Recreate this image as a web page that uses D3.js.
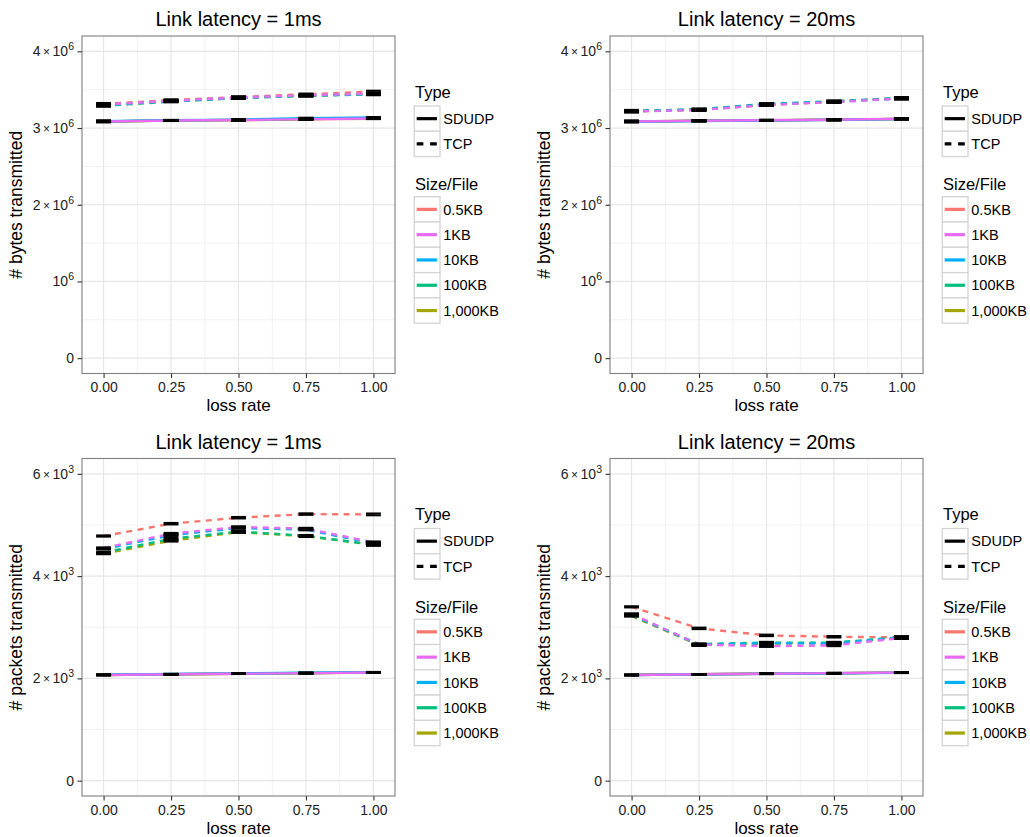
<!DOCTYPE html>
<html lang="en">
<head>
    <meta charset="UTF-8">
    <title>Transmitted bytes and packets</title>
    <script src="https://d3js.org/d3.v7.min.js"></script>
    <style>
        body { margin: 0; background: #fff; }
        text { font-family: "Liberation Sans", Arial, Helvetica, sans-serif; }
    </style>
</head>
<body>
<script>
    // x values (loss rate) and levels
    var lossRate = [0, 0.25, 0.5, 0.75, 1];
    var sizeLevels = ["0.5KB", "1KB", "10KB", "100KB", "1,000KB"];          // legend order
    var sizeColors = ["#F8766D", "#E76BF3", "#00B0F6", "#00BF7D", "#A3A500"];
    var drawOrder = ["0.5KB", "1,000KB", "100KB", "10KB", "1KB"];           // ggplot factor (alphabetical) order
    var typeLevels = ["SDUDP", "TCP"];

    // rows follow sizeLevels: 0.5KB, 1KB, 10KB, 100KB, 1,000KB
    var bytes1msSDUDP = [
        [3.086e6, 3.097e6, 3.103e6, 3.114e6, 3.122e6],
        [3.085e6, 3.098e6, 3.104e6, 3.116e6, 3.124e6],
        [3.088e6, 3.101e6, 3.110e6, 3.128e6, 3.138e6],
        [3.087e6, 3.099e6, 3.106e6, 3.120e6, 3.130e6],
        [3.086e6, 3.098e6, 3.105e6, 3.118e6, 3.127e6]
    ];
    var bytes1msTCP = [
        [3.315e6, 3.365e6, 3.405e6, 3.440e6, 3.475e6],
        [3.305e6, 3.355e6, 3.398e6, 3.428e6, 3.450e6],
        [3.300e6, 3.350e6, 3.395e6, 3.425e6, 3.445e6],
        [3.290e6, 3.345e6, 3.390e6, 3.420e6, 3.440e6],
        [3.295e6, 3.350e6, 3.392e6, 3.422e6, 3.442e6]
    ];
    var bytes20msSDUDP = [
        [3.086e6, 3.094e6, 3.100e6, 3.108e6, 3.118e6],
        [3.085e6, 3.095e6, 3.101e6, 3.109e6, 3.121e6],
        [3.084e6, 3.092e6, 3.098e6, 3.106e6, 3.116e6],
        [3.086e6, 3.094e6, 3.100e6, 3.108e6, 3.119e6],
        [3.087e6, 3.095e6, 3.101e6, 3.110e6, 3.120e6]
    ];
    var bytes20msTCP = [
        [3.225e6, 3.240e6, 3.300e6, 3.345e6, 3.392e6],
        [3.215e6, 3.235e6, 3.300e6, 3.338e6, 3.385e6],
        [3.220e6, 3.240e6, 3.310e6, 3.345e6, 3.385e6],
        [3.222e6, 3.245e6, 3.315e6, 3.350e6, 3.392e6],
        [3.218e6, 3.238e6, 3.305e6, 3.342e6, 3.388e6]
    ];
    var packets1msSDUDP = [
        [2067, 2080, 2090, 2100, 2112],
        [2066, 2080, 2091, 2102, 2114],
        [2070, 2085, 2098, 2110, 2122],
        [2068, 2082, 2093, 2104, 2116],
        [2067, 2081, 2092, 2103, 2115]
    ];
    var packets1msTCP = [
        [4784, 5025, 5142, 5213, 5207],
        [4550, 4830, 4960, 4930, 4660],
        [4530, 4800, 4940, 4910, 4640],
        [4460, 4730, 4870, 4790, 4610],
        [4440, 4690, 4860, 4780, 4620]
    ];
    var packets20msSDUDP = [
        [2067, 2080, 2090, 2100, 2112],
        [2066, 2081, 2091, 2102, 2114],
        [2064, 2078, 2088, 2098, 2108],
        [2067, 2080, 2090, 2101, 2112],
        [2068, 2081, 2092, 2102, 2113]
    ];
    var packets20msTCP = [
        [3399, 2978, 2841, 2814, 2802],
        [3260, 2660, 2630, 2645, 2790],
        [3250, 2655, 2690, 2680, 2800],
        [3230, 2670, 2700, 2700, 2805],
        [3220, 2650, 2680, 2690, 2795]
    ];

    // half-widths of the error bars, one per loss rate
    var bytesErrSDUDP = [9000, 6000, 6000, 7000, 6000];
    var bytesErrTCP = [12000, 10000, 10000, 10000, 12000];
    var packetsErrSDUDP = [6, 5, 5, 6, 5];
    var packetsErrTCP = [12, 15, 15, 15, 18];

    var yTicksBytes = [0, 1e6, 2e6, 3e6, 4e6];
    var yMinorBytes = [0.5e6, 1.5e6, 2.5e6, 3.5e6];
    var yTicksPackets = [0, 2e3, 4e3, 6e3];
    var yMinorPackets = [1e3, 3e3, 5e3];
    var xTicks = [0, 0.25, 0.5, 0.75, 1];
    var xMinor = [0.125, 0.375, 0.625, 0.875];

    var panelW = 313, panelH = 337.5;
    var capHalf = 0.0276;

    var panels = [
        {title: "Link latency = 1ms", ylab: "# bytes transmitted", left: 82, top: 36,
            yDomain: [-0.2e6, 4.2e6], yTicks: yTicksBytes, yMinor: yMinorBytes, exp: 6,
            series: [bytes1msSDUDP, bytes1msTCP], errs: [bytesErrSDUDP, bytesErrTCP]},
        {title: "Link latency = 20ms", ylab: "# bytes transmitted", left: 610, top: 36,
            yDomain: [-0.2e6, 4.2e6], yTicks: yTicksBytes, yMinor: yMinorBytes, exp: 6,
            series: [bytes20msSDUDP, bytes20msTCP], errs: [bytesErrSDUDP, bytesErrTCP]},
        {title: "Link latency = 1ms", ylab: "# packets transmitted", left: 82, top: 458.5,
            yDomain: [-300, 6300], yTicks: yTicksPackets, yMinor: yMinorPackets, exp: 3,
            series: [packets1msSDUDP, packets1msTCP], errs: [packetsErrSDUDP, packetsErrTCP]},
        {title: "Link latency = 20ms", ylab: "# packets transmitted", left: 610, top: 458.5,
            yDomain: [-300, 6300], yTicks: yTicksPackets, yMinor: yMinorPackets, exp: 3,
            series: [packets20msSDUDP, packets20msTCP], errs: [packetsErrSDUDP, packetsErrTCP]}
    ];

    var svg = d3.select("body").append("svg")
        .attr("width", 1030)
        .attr("height", 837);

    panels.forEach(function (p) {
        var x = d3.scaleLinear().domain([-0.08, 1.08]).range([p.left, p.left + panelW]);
        var y = d3.scaleLinear().domain(p.yDomain).range([p.top + panelH, p.top]);
        var g = svg.append("g");

        // panel background
        g.append("rect")
            .attr("x", p.left).attr("y", p.top)
            .attr("width", panelW).attr("height", panelH)
            .attr("fill", "#fff");

        // grid lines (minor then major)
        var grid = g.append("g");
        grid.selectAll(".xminor").data(xMinor).enter().append("line")
            .attr("x1", d => x(d)).attr("x2", d => x(d))
            .attr("y1", p.top).attr("y2", p.top + panelH)
            .attr("stroke", "#f2f2f2").attr("stroke-width", 1);
        grid.selectAll(".yminor").data(p.yMinor).enter().append("line")
            .attr("x1", p.left).attr("x2", p.left + panelW)
            .attr("y1", d => y(d)).attr("y2", d => y(d))
            .attr("stroke", "#f2f2f2").attr("stroke-width", 1);
        grid.selectAll(".xmajor").data(xTicks).enter().append("line")
            .attr("x1", d => x(d)).attr("x2", d => x(d))
            .attr("y1", p.top).attr("y2", p.top + panelH)
            .attr("stroke", "#e6e6e6").attr("stroke-width", 1.2);
        grid.selectAll(".ymajor").data(p.yTicks).enter().append("line")
            .attr("x1", p.left).attr("x2", p.left + panelW)
            .attr("y1", d => y(d)).attr("y2", d => y(d))
            .attr("stroke", "#e6e6e6").attr("stroke-width", 1.2);

        // lines
        var line = d3.line()
            .x(function (d, i) { return x(lossRate[i]); })
            .y(function (d) { return y(d); });

        typeLevels.forEach(function (t, ti) {
            drawOrder.forEach(function (s) {
                var si = sizeLevels.indexOf(s);
                g.append("path")
                    .datum(p.series[ti][si])
                    .attr("d", line)
                    .attr("fill", "none")
                    .attr("stroke", sizeColors[si])
                    .attr("stroke-width", 2.4)
                    .attr("stroke-dasharray", t === "TCP" ? "6,5.5" : null);
            });
        });

        // error bars
        typeLevels.forEach(function (t, ti) {
            drawOrder.forEach(function (s) {
                var si = sizeLevels.indexOf(s);
                p.series[ti][si].forEach(function (v, i) {
                    var e = p.errs[ti][i];
                    var x0 = x(lossRate[i] - capHalf), x1 = x(lossRate[i] + capHalf), xc = x(lossRate[i]);
                    var eb = g.append("g").attr("stroke", "#000").attr("stroke-width", 2);
                    eb.append("line").attr("x1", x0).attr("x2", x1).attr("y1", y(v + e)).attr("y2", y(v + e));
                    eb.append("line").attr("x1", x0).attr("x2", x1).attr("y1", y(v - e)).attr("y2", y(v - e));
                    eb.append("line").attr("x1", xc).attr("x2", xc).attr("y1", y(v + e)).attr("y2", y(v - e));
                });
            });
        });

        // border
        g.append("rect")
            .attr("x", p.left).attr("y", p.top)
            .attr("width", panelW).attr("height", panelH)
            .attr("fill", "none").attr("stroke", "#7f7f7f").attr("stroke-width", 1.1);

        // x axis
        var xAxis = g.append("g")
            .attr("transform", "translate(0," + (p.top + panelH) + ")")
            .call(d3.axisBottom(x).tickValues(xTicks).tickFormat(d3.format(".2f")).tickSize(4.5).tickPadding(4.5));
        xAxis.select(".domain").remove();
        xAxis.selectAll("line").attr("stroke", "#333").attr("stroke-width", 1.1);
        xAxis.selectAll("text").attr("fill", "#222").style("font-size", "14px")
            .style("font-family", "'Liberation Sans', Arial, sans-serif");

        // y axis with plotmath-like labels
        var yAxis = g.append("g")
            .attr("transform", "translate(" + p.left + ",0)")
            .call(d3.axisLeft(y).tickValues(p.yTicks).tickSize(4.5).tickPadding(3.5));
        yAxis.select(".domain").remove();
        yAxis.selectAll("line").attr("stroke", "#333").attr("stroke-width", 1.1);
        yAxis.selectAll("text")
            .attr("fill", "#222").style("font-size", "14px")
            .style("font-family", "'Liberation Sans', Arial, sans-serif")
            .each(function (d) {
                var t = d3.select(this);
                t.text(null);
                if (d === 0) { t.append("tspan").text("0"); return; }
                var m = Math.round(d / Math.pow(10, p.exp));
                if (m !== 1) {
                    t.append("tspan").text(m);
                    t.append("tspan").attr("dx", 2.5).style("font-size", "12px").text("\u00d7");
                    t.append("tspan").attr("dx", 2.5).text("10");
                } else {
                    t.append("tspan").text("10");
                }
                t.append("tspan").attr("dy", "-6").style("font-size", "10.5px").text(p.exp);
            });

        // titles
        g.append("text")
            .attr("x", p.left + panelW / 2).attr("y", p.top - 10)
            .attr("text-anchor", "middle").style("font-size", "20px")
            .text(p.title);
        g.append("text")
            .attr("x", p.left + panelW / 2).attr("y", p.top + panelH + 37.5)
            .attr("text-anchor", "middle").style("font-size", "17px")
            .text("loss rate");
        g.append("text")
            .attr("transform", "translate(" + (p.left - 60) + "," + (p.top + panelH / 2) + ") rotate(-90)")
            .attr("text-anchor", "middle").style("font-size", "17.5px")
            .text(p.ylab);

        // legends
        var lx = p.left + 332.3, keyW = 25.7, keyH = 25.3;
        var leg = g.append("g");
        leg.append("text").attr("x", lx + 0.7).attr("y", p.top + 61.5)
            .style("font-size", "16.5px").text("Type");
        typeLevels.forEach(function (t, i) {
            var ky = p.top + 70 + i * keyH;
            leg.append("rect").attr("x", lx).attr("y", ky).attr("width", keyW).attr("height", keyH)
                .attr("fill", "#fff").attr("stroke", "#d4d4d4").attr("stroke-width", 1.3);
            leg.append("line").attr("x1", lx + 2.4).attr("x2", lx + 22.6)
                .attr("y1", ky + keyH / 2).attr("y2", ky + keyH / 2)
                .attr("stroke", "#000").attr("stroke-width", 3.2)
                .attr("stroke-dasharray", t === "TCP" ? "6.7,6.7" : null);
            leg.append("text").attr("x", lx + 29).attr("y", ky + keyH / 2)
                .attr("dy", "0.36em").style("font-size", "14.5px").text(t);
        });
        leg.append("text").attr("x", lx + 0.7).attr("y", p.top + 154)
            .style("font-size", "16.5px").text("Size/File");
        sizeLevels.forEach(function (s, i) {
            var ky = p.top + 160.7 + i * keyH;
            leg.append("rect").attr("x", lx).attr("y", ky).attr("width", keyW).attr("height", keyH)
                .attr("fill", "#fff").attr("stroke", "#d4d4d4").attr("stroke-width", 1.3);
            leg.append("line").attr("x1", lx + 2.4).attr("x2", lx + 22.6)
                .attr("y1", ky + keyH / 2).attr("y2", ky + keyH / 2)
                .attr("stroke", sizeColors[i]).attr("stroke-width", 3.2);
            leg.append("text").attr("x", lx + 29).attr("y", ky + keyH / 2)
                .attr("dy", "0.36em").style("font-size", "14.5px").text(s);
        });
    });
</script>
</body>
</html>
